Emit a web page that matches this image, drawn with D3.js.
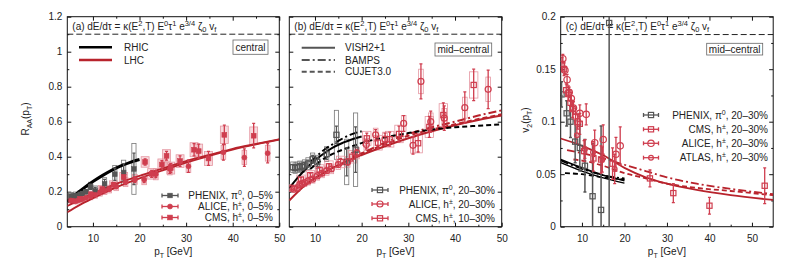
<!DOCTYPE html>
<html>
<head>
<meta charset="utf-8">
<script src="https://cdn.jsdelivr.net/npm/d3@7"></script>
<style>
body { margin: 0; background: #fff; }
text { font-family: "Liberation Sans", Arial, Helvetica, sans-serif; font-size: 10px; fill: #222; }
</style>
</head>
<body>
<script>
// ---- data: [pT, value, stat, sys] ----
// panel (a) central R_AA
const aRhic = [[4.5,0.143],[6,0.178],[8,0.22],[10,0.258],[12,0.292],[14,0.322],[16,0.347],[18,0.368],[20,0.384]];
const aLhcHi = [[4.5,0.118],[7,0.152],[10,0.19],[15,0.245],[20,0.29],[25,0.333],[30,0.375],[35,0.41],[40,0.445],[45,0.473],[50,0.5]];
const aLhcLo = [[4.5,0.082],[7,0.122],[10,0.163],[15,0.225],[20,0.276],[25,0.322],[30,0.366],[35,0.405],[40,0.44],[45,0.47],[50,0.497]];
const aPhenix = [[5.25,0.175,0.008,0.02],[5.75,0.17,0.008,0.02],[6.25,0.178,0.008,0.02],[6.75,0.172,0.01,0.02],[7.25,0.185,0.01,0.02],[7.75,0.19,0.01,0.022],[8.5,0.2,0.012,0.024],[9.5,0.228,0.015,0.026],[10.5,0.205,0.02,0.028],[12.5,0.245,0.025,0.035],[14.7,0.3,0.035,0.05],[16.6,0.31,0.05,0.07],[18.8,0.33,0.09,0.145]];
const aAlice = [[5.25,0.15,0.005,0.015],[5.75,0.148,0.005,0.015],[6.25,0.145,0.005,0.015],[6.75,0.15,0.005,0.015],[7.25,0.155,0.006,0.016],[7.75,0.158,0.006,0.016],[8.5,0.165,0.006,0.017],[9.5,0.172,0.007,0.018],[10.5,0.182,0.008,0.019],[11.5,0.195,0.009,0.02],[12.5,0.205,0.01,0.021],[13.5,0.215,0.011,0.022],[15,0.23,0.012,0.024],[17,0.255,0.014,0.026],[19,0.27,0.016,0.028],[21,0.27,0.018,0.03],[23.5,0.3,0.02,0.032],[26.5,0.33,0.025,0.034],[30.5,0.345,0.035,0.036],[38,0.425,0.045,0.04],[42.5,0.395,0.05,0.04],[47.5,0.42,0.055,0.045]];
const aCms = [[7.2,0.16,0.008,0.015],[9.6,0.185,0.009,0.018],[12,0.215,0.01,0.02],[14.4,0.24,0.012,0.022],[16.6,0.285,0.014,0.025],[21.2,0.37,0.018,0.03],[22.6,0.302,0.02,0.03],[24.8,0.355,0.022,0.032],[25.8,0.405,0.025,0.035],[26.7,0.335,0.025,0.034],[28.7,0.375,0.03,0.036],[31.7,0.44,0.035,0.04],[32.7,0.432,0.04,0.04],[34.8,0.39,0.04,0.04],[38.2,0.525,0.055,0.05],[44.5,0.52,0.07,0.05]];

// panel (b) mid-central R_AA
const bVishR = [[4.5,0.22],[6,0.27],[8,0.33],[10,0.38],[12,0.42],[14,0.455],[16,0.48],[18,0.5],[20,0.515]];
const bBampsR = [[9,0.37],[12,0.44],[15,0.49],[17.5,0.525],[20,0.545]];
const bCujetR = [[9,0.33],[12,0.39],[15,0.43],[18,0.46],[21,0.486],[25,0.51],[30,0.535],[35,0.555],[40,0.568],[45,0.577],[50,0.585]];
const bVishL = [[4.5,0.15],[8,0.24],[12,0.31],[16,0.365],[20,0.41],[25,0.46],[30,0.505],[35,0.545],[40,0.58],[45,0.61],[50,0.635]];
const bBampsL = [[18,0.39],[25,0.48],[30,0.53],[35,0.568],[40,0.6],[45,0.635],[50,0.665]];
const bCujetL = [[18,0.4],[25,0.47],[30,0.52],[35,0.555],[40,0.585],[45,0.615],[50,0.642]];
const bPhenix = [[5.25,0.34,0.015,0.03],[5.75,0.335,0.015,0.03],[6.25,0.34,0.015,0.03],[6.75,0.345,0.016,0.03],[7.25,0.34,0.017,0.03],[7.75,0.35,0.018,0.032],[8.5,0.36,0.02,0.034],[9.5,0.385,0.022,0.036],[10.5,0.37,0.026,0.038],[12.5,0.415,0.03,0.042],[14.6,0.525,0.05,0.14],[16.8,0.37,0.08,0.13],[18.7,0.44,0.13,0.21]];
const bAlice = [[5,0.22,0.006,0.02],[5.5,0.215,0.006,0.02],[6.25,0.222,0.006,0.02],[6.75,0.24,0.007,0.02],[7.25,0.245,0.007,0.021],[7.75,0.25,0.008,0.021],[8.5,0.26,0.008,0.022],[9.5,0.272,0.009,0.023],[10.5,0.29,0.01,0.024],[11.5,0.305,0.011,0.025],[12.5,0.32,0.012,0.026],[13.5,0.33,0.013,0.027],[15,0.355,0.015,0.028],[17,0.37,0.018,0.03],[19,0.42,0.022,0.032],[21,0.47,0.026,0.035],[23,0.525,0.03,0.038],[25,0.5,0.035,0.04],[29,0.59,0.045,0.045],[31,0.465,0.05,0.045],[32.7,0.83,0.1,0.07],[34.8,0.6,0.06,0.05],[37.7,0.62,0.07,0.055],[42.1,0.68,0.09,0.06],[47.1,0.785,0.11,0.07]];
const bCms = [[7,0.27,0.01,0.025],[9,0.295,0.012,0.027],[11,0.325,0.014,0.029],[13,0.345,0.016,0.031],[15.5,0.37,0.02,0.033],[18,0.4,0.025,0.036],[21.1,0.505,0.03,0.04],[23.5,0.48,0.035,0.042],[26,0.5,0.04,0.045],[28,0.53,0.045,0.05],[32.1,0.477,0.05,0.055],[34.5,0.57,0.06,0.06],[37.5,0.638,0.07,0.065],[44,0.81,0.09,0.075]];

// panel (c) mid-central v2
const cVishR = [[5,0.064],[10,0.056],[15,0.049],[20,0.044]];
const cVishR2 = [[5,0.061],[10,0.053],[15,0.0465],[20,0.0415]];
const cBampsR = [[5,0.063],[10,0.055],[15,0.049],[20,0.046]];
const cCujetR = [[6,0.051],[10,0.05],[15,0.047],[20,0.045]];
const cVishL = [[5,0.084],[10,0.077],[15,0.068],[20,0.056],[25,0.047],[30,0.041],[37,0.035],[45,0.03],[55,0.0255]];
const cBampsL = [[6.5,0.073],[10,0.07],[15,0.065],[20,0.059],[25,0.053],[30,0.047],[37,0.041],[45,0.036],[55,0.031]];
const cCujetL = [[8,0.064],[10,0.063],[15,0.058],[20,0.051],[25,0.046],[30,0.041],[37,0.037],[45,0.034],[55,0.03]];
const cPhenix = [[5.2,0.126,0.012],[6.4,0.108,0.012],[7.3,0.1,0.015],[8.4,0.081,0.02],[9.5,0.075,0.022],[10.7,0.058,0.025],[12.5,0.029,0.05],[14.5,0.016,0.08],[16.4,0.194,0.3]];
const cCms = [[5.3,0.155,0.006],[5.8,0.15,0.006],[6.3,0.13,0.006],[6.8,0.127,0.007],[7.3,0.118,0.007],[7.8,0.112,0.008],[8.5,0.105,0.008],[9.5,0.098,0.01],[10.5,0.072,0.01],[12.7,0.065,0.012],[14.5,0.064,0.013],[17.2,0.06,0.015],[26,0.046,0.008],[31.5,0.032,0.009],[40,0.02,0.008],[53,0.039,0.017]];
const cAlice = [[5.5,0.16,0.004],[6,0.149,0.004],[6.5,0.14,0.005],[7,0.128,0.005],[7.5,0.122,0.006],[8,0.113,0.006],[9,0.1,0.007],[9.5,0.108,0.008],[11,0.107,0.01],[13,0.08,0.012],[15,0.083,0.014],[18,0.069,0.016],[19,0.077,0.018]];
const cAtlas = [[8.8,0.087,0.008],[10.7,0.074,0.009],[12.6,0.071,0.01],[14.8,0.064,0.012],[17.7,0.055,0.014]];

const xTicks = [10,20,30,40,50], xMinor = [15,25,35,45];
const rTicks = [0,0.2,0.4,0.6,0.8,1,1.2], rMinor = [0.1,0.3,0.5,0.7,0.9,1.1];
const vTicks = [0,0.05,0.1,0.15,0.2], vMinor = [0.025,0.075,0.125,0.175];

const RED = "#cf3d4e", DRED = "#b8232c", GREY = "#555", BOXF = "rgba(232,140,152,0.32)", BOXS = "#e597a2";

const svg = d3.select("body").append("svg").attr("width", 790).attr("height", 261);

// text with super/subscripts
function rich(t, parts, small) {
  let off = 0;
  parts.forEach(p => {
    const s = t.append("tspan").text(p[0]);
    const want = p[1] === "sup" ? -4 : p[1] === "sub" ? 2.5 : 0;
    if (want !== off) s.attr("dy", want - off);
    if (p[1]) s.attr("font-size", small || 7);
    off = want;
  });
  return t;
}

function panel(cfg) {
  const x = d3.scaleLinear().domain(cfg.xd).range([cfg.left, cfg.right]);
  const y = d3.scaleLinear().domain(cfg.yd).range([226.7, 16.7]);
  const g = svg.append("g");
  const b = y.range()[0], t = y.range()[1];
  const fmt = cfg.labels ? (d => String(d)) : "";

  g.append("g").attr("transform", `translate(0,${b})`)
    .call(d3.axisBottom(x).tickValues(xTicks).tickSize(-4).tickSizeOuter(0).tickPadding(8));
  g.append("g").attr("transform", `translate(0,${b})`)
    .call(d3.axisBottom(x).tickValues(xMinor).tickSize(-2).tickFormat(""));
  g.append("g").attr("transform", `translate(0,${t})`)
    .call(d3.axisTop(x).tickValues(xTicks).tickSize(-4).tickFormat(""));
  g.append("g").attr("transform", `translate(0,${t})`)
    .call(d3.axisTop(x).tickValues(xMinor).tickSize(-2).tickFormat(""));
  g.append("g").attr("transform", `translate(${cfg.left},0)`)
    .call(d3.axisLeft(y).tickValues(cfg.yTicks).tickSize(-4).tickPadding(5).tickFormat(fmt));
  g.append("g").attr("transform", `translate(${cfg.left},0)`)
    .call(d3.axisLeft(y).tickValues(cfg.yMinor).tickSize(-2).tickFormat(""));
  g.append("g").attr("transform", `translate(${cfg.right},0)`)
    .call(d3.axisRight(y).tickValues(cfg.yTicks).tickSize(-4).tickFormat(""));
  g.append("g").attr("transform", `translate(${cfg.right},0)`)
    .call(d3.axisRight(y).tickValues(cfg.yMinor).tickSize(-2).tickFormat(""));
  g.selectAll(".domain").remove();
  g.selectAll(".tick line").attr("stroke", "#111");
  g.selectAll(".tick text").attr("font-size", 10).attr("fill", "#222")
    .attr("font-family", '"Liberation Sans", Arial, sans-serif');

  const cid = "clip" + cfg.id;
  svg.append("clipPath").attr("id", cid).append("rect")
    .attr("x", cfg.left).attr("y", t).attr("width", cfg.right - cfg.left).attr("height", b - t);
  const d = svg.append("g").attr("clip-path", `url(#${cid})`);

  // title band
  g.append("line").attr("x1", cfg.left).attr("x2", cfg.right)
    .attr("y1", y(cfg.band)).attr("y2", y(cfg.band))
    .attr("stroke", "#222").attr("stroke-dasharray", "6,3");
  rich(g.append("text").attr("x", cfg.left + 5).attr("y", 29.5).attr("font-size", 10.5),
    [["(" + cfg.id + ") dE/dτ = κ(E"], ["2", "sup"], [",T) E"], ["0", "sup"], ["τ"], ["1", "sup"],
     [" e"], ["3/4", "sup"], [" ζ"], ["0", "sub"], [" v"], ["f", "sub"]], 7.5);

  // x label
  rich(g.append("text").attr("x", (cfg.left + cfg.right) / 2).attr("y", 255).attr("text-anchor", "middle"),
    [["p"], ["T", "sub"], [" [GeV]"]]);

  return { x, y, g, d };
}

function boxes(p, data, w, stroke, fill) {
  p.d.append("g").selectAll("rect").data(data).join("rect")
    .attr("x", d => p.x(d[0] - w / 2)).attr("width", d => p.x(d[0] + w / 2) - p.x(d[0] - w / 2))
    .attr("y", d => p.y(d[1] + d[3])).attr("height", d => p.y(d[1] - d[3]) - p.y(d[1] + d[3]))
    .attr("fill", fill).attr("stroke", stroke).attr("stroke-width", 0.8);
}

function bars(p, data, color, w) {
  const g = p.d.append("g").attr("stroke", color).attr("stroke-width", w || 1.3);
  g.selectAll("line.v").data(data).join("line").attr("class", "v")
    .attr("x1", d => p.x(d[0])).attr("x2", d => p.x(d[0]))
    .attr("y1", d => p.y(d[1] - d[2])).attr("y2", d => p.y(d[1] + d[2]));
  [-1, 1].forEach((s, i) => {
    g.selectAll("line.cap" + i).data(data).join("line").attr("class", "cap" + i)
      .attr("x1", d => p.x(d[0]) - 1.5).attr("x2", d => p.x(d[0]) + 1.5)
      .attr("y1", d => p.y(d[1] + s * d[2]))
      .attr("y2", d => p.y(d[1] + s * d[2]));
  });
}

function marks(p, data, shape, open, color, sz) {
  const g = p.d.append("g");
  drawMark(g, data.map(d => [p.x(d[0]), p.y(d[1])]), shape, open, color, sz);
}

function drawMark(g, pts, shape, open, color, sz) {
  const sel = shape === "sq"
    ? g.selectAll("rect.m").data(pts).join("rect").attr("class", "m")
        .attr("x", d => d[0] - sz).attr("y", d => d[1] - sz).attr("width", 2 * sz).attr("height", 2 * sz)
    : g.selectAll("circle.m").data(pts).join("circle").attr("class", "m")
        .attr("cx", d => d[0]).attr("cy", d => d[1]).attr("r", sz);
  sel.attr("fill", open ? "none" : color).attr("stroke", color).attr("stroke-width", open ? 1.2 : 0.6);
}

function curve(p, data, color, dash, w) {
  p.d.append("path").datum(data)
    .attr("d", d3.line().x(d => p.x(d[0])).y(d => p.y(d[1])).curve(d3.curveMonotoneX))
    .attr("fill", "none").attr("stroke", color).attr("stroke-width", w || 2)
    .attr("stroke-dasharray", dash || null);
}

function legendLine(g, x1, x2, yy, color, dash, w, label, tx) {
  g.append("line").attr("x1", x1).attr("x2", x2).attr("y1", yy).attr("y2", yy)
    .attr("stroke", color).attr("stroke-width", w).attr("stroke-dasharray", dash || null);
  g.append("text").attr("x", tx).attr("y", yy + 3.5).text(label);
}

function legendMark(g, cx, half, yy, shape, open, color, sz, parts, tx) {
  g.append("line").attr("x1", cx - half).attr("x2", cx + half).attr("y1", yy).attr("y2", yy)
    .attr("stroke", color).attr("stroke-width", 1.3);
  [cx - half, cx + half].forEach(e => g.append("line").attr("x1", e).attr("x2", e)
    .attr("y1", yy - 2).attr("y2", yy + 2).attr("stroke", color).attr("stroke-width", 1.3));
  drawMark(g.append("g"), [[cx, yy]], shape, open, color, sz);
  rich(g.append("text").attr("x", tx).attr("y", yy + 3.5).attr("text-anchor", "end"), parts);
}

function tagBox(g, x1, x2, y1, y2, label) {
  g.append("rect").attr("x", x1).attr("y", y1).attr("width", x2 - x1).attr("height", y2 - y1)
    .attr("fill", "#fff").attr("stroke", "#666").attr("stroke-width", 0.8);
  g.append("text").attr("x", (x1 + x2) / 2).attr("y", (y1 + y2) / 2 + 3.5).attr("text-anchor", "middle").text(label);
}

function frame(p) {
  const [l, r] = p.x.range(), [b, t] = p.y.range();
  p.g.append("rect").attr("x", l).attr("y", t).attr("width", r - l).attr("height", b - t)
    .attr("fill", "none").attr("stroke", "#111").attr("stroke-width", 1);
}

// ---------- panel (a) ----------
const pa = panel({ id: "a", left: 67.3, right: 279.3, xd: [4.5, 50], yd: [0, 1.2], yTicks: rTicks, yMinor: rMinor, labels: true, band: 1.1 });
boxes(pa, aPhenix, 0.9, "#777", "none");
boxes(pa, aAlice, 1.0, BOXS, BOXF);
boxes(pa, aCms, 1.7, BOXS, BOXF);
curve(pa, aLhcHi, DRED, null, 1.8);
curve(pa, aLhcLo, DRED, null, 1.8);
curve(pa, aRhic, "#000", null, 3);
bars(pa, aPhenix, GREY);
bars(pa, aAlice, RED);
bars(pa, aCms, RED);
marks(pa, aPhenix, "sq", false, GREY, 2.3);
marks(pa, aAlice, "ci", false, RED, 2.5);
marks(pa, aCms, "sq", false, RED, 2.4);
frame(pa);
legendLine(pa.g, 79, 112, 47.3, "#000", null, 2.6, "RHIC", 124);
legendLine(pa.g, 79, 112, 60, DRED, null, 2.6, "LHC", 124);
tagBox(pa.g, 233, 268, 40, 54.3, "central");
legendMark(pa.g, 170, 8, 195.5, "sq", false, GREY, 2.3, [["PHENIX, π"], ["0", "sup"], [", 0–5%"]], 273);
legendMark(pa.g, 170, 8, 206.5, "ci", false, RED, 2.5, [["ALICE, h"], ["±", "sup"], [", 0–5%"]], 273);
legendMark(pa.g, 170, 8, 217.5, "sq", false, RED, 2.4, [["CMS, h"], ["±", "sup"], [", 0–5%"]], 273);
rich(svg.append("text").attr("transform", "translate(29,119) rotate(-90)").attr("text-anchor", "middle"),
  [["R"], ["AA", "sub"], ["(p"], ["T", "sub"], [")"]]);

// ---------- panel (b) ----------
const pb = panel({ id: "b", left: 289.3, right: 501.7, xd: [4.5, 50], yd: [0, 1.2], yTicks: rTicks, yMinor: rMinor, labels: false, band: 1.1 });
boxes(pb, bPhenix, 0.9, "#777", "none");
boxes(pb, bAlice, 1.0, BOXS, "none");
boxes(pb, bCms, 1.8, BOXS, "none");
curve(pb, bVishL, DRED, null, 2);
curve(pb, bBampsL, DRED, "8,3,2,3", 2);
curve(pb, bCujetL, DRED, "5,3", 2);
curve(pb, bVishR, "#000", null, 2);
curve(pb, bBampsR, "#000", "8,3,2,3", 2);
curve(pb, bCujetR, "#000", "5,3", 2);
bars(pb, bPhenix, GREY);
bars(pb, bAlice, RED);
bars(pb, bCms, RED);
marks(pb, bPhenix, "sq", true, GREY, 2.6);
marks(pb, bAlice, "ci", true, RED, 3);
marks(pb, bCms, "sq", true, RED, 2.6);
frame(pb);
legendLine(pb.g, 301.7, 335, 47.7, GREY, null, 2, "VISH2+1", 345);
legendLine(pb.g, 301.7, 335, 60, GREY, "8,3,2,3", 2, "BAMPS", 345);
legendLine(pb.g, 301.7, 335, 71.7, GREY, "5,3", 2, "CUJET3.0", 345);
tagBox(pb.g, 435, 491.7, 43, 56, "mid–central");
legendMark(pb.g, 380, 8, 190, "sq", true, GREY, 2.6, [["PHENIX, π"], ["0", "sup"], [", 20–30%"]], 495);
legendMark(pb.g, 380, 8, 204, "ci", true, RED, 3, [["ALICE, h"], ["±", "sup"], [", 20–30%"]], 495);
legendMark(pb.g, 380, 8, 218.3, "sq", true, RED, 2.6, [["CMS, h"], ["±", "sup"], [", 10–30%"]], 495);

// ---------- panel (c) ----------
const pc = panel({ id: "c", left: 560.7, right: 773.2, xd: [5, 55], yd: [0, 0.2], yTicks: vTicks, yMinor: vMinor, labels: true, band: 0.183 });
curve(pc, cVishL, DRED, null, 1.8);
curve(pc, cBampsL, DRED, "8,3,2,3", 1.8);
curve(pc, cCujetL, DRED, "5,3", 1.8);
curve(pc, cVishR, "#000", null, 1.8);
curve(pc, cVishR2, "#000", null, 1.4);
curve(pc, cBampsR, "#000", "8,3,2,3", 1.6);
curve(pc, cCujetR, "#000", "5,3", 1.8);
bars(pc, cPhenix, GREY, 1.5);
bars(pc, cCms, RED);
bars(pc, cAlice, RED);
bars(pc, cAtlas, RED);
marks(pc, cPhenix, "sq", true, GREY, 2.6);
marks(pc, cCms, "sq", true, RED, 2.6);
marks(pc, cAlice, "ci", true, RED, 3.2);
marks(pc, cAtlas, "ci", true, RED, 2.4);
frame(pc);
tagBox(pc.g, 706.7, 762.7, 43.3, 55, "mid–central");
legendMark(pc.g, 651, 7.5, 115, "sq", true, GREY, 2.6, [["PHENIX, π"], ["0", "sup"], [", 20–30%"]], 768);
legendMark(pc.g, 651, 7.5, 129.3, "sq", true, RED, 2.6, [["CMS, h"], ["±", "sup"], [", 20–30%"]], 768);
legendMark(pc.g, 651, 7.5, 143.3, "ci", true, RED, 3.2, [["ALICE, h"], ["±", "sup"], [", 20–30%"]], 768);
legendMark(pc.g, 651, 7.5, 157.7, "ci", true, RED, 2.4, [["ATLAS, h"], ["±", "sup"], [", 20–30%"]], 768);
rich(svg.append("text").attr("transform", "translate(529,120) rotate(-90)").attr("text-anchor", "middle"),
  [["v"], ["2", "sub"], ["(p"], ["T", "sub"], [")"]]);
</script>
</body>
</html>
